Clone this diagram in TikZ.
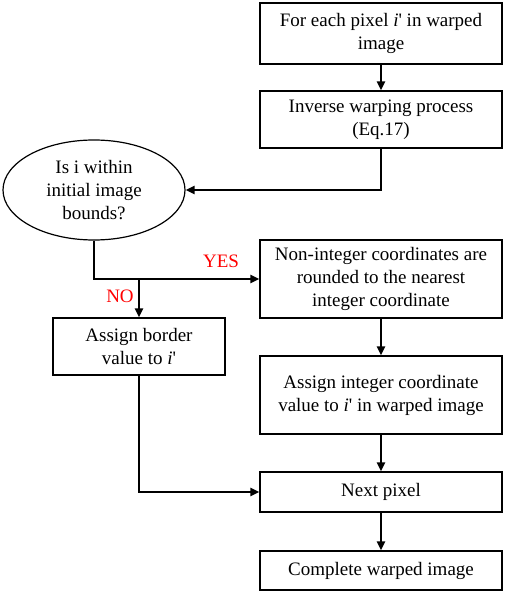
\documentclass[tikz,border=0pt]{standalone}
\usepackage{fontspec}
\setmainfont{Liberation Serif}
\newfontfamily\aposfont{Liberation Serif}[Ligatures=TeXOff]
\usetikzlibrary{arrows.meta,shapes.geometric}
\newcommand{\ip}{\textit{i}{\aposfont'}}
\begin{document}
\begin{tikzpicture}[x=1pt,y=-1pt,
  box/.style={draw,line width=1.2pt,inner sep=0pt,align=center,font=\fontsize{19}{23}\selectfont},
  conn/.style={line width=2.3pt,-{Triangle[length=9pt,width=8pt]}},
  lbl/.style={text=red,font=\fontsize{19}{22}\selectfont}]
\useasboundingbox (0,0) rectangle (505,593);
\node[box,minimum width=242pt,minimum height=61pt] (b1) at (381,33.5) {For each pixel \ip{} in warped\\image};
\node[box,minimum width=242pt,minimum height=57pt] (b2) at (381,119.5) {Inverse warping process\\(Eq.17)};
\node[box,ellipse,minimum width=182pt,minimum height=100pt] (e) at (94,190) {Is i within\\initial image\\bounds?};
\node[box,minimum width=242pt,minimum height=78pt] (b3) at (381,279) {Non-integer coordinates are\\rounded to the nearest\\integer coordinate};
\node[box,minimum width=172pt,minimum height=57pt] (b4) at (139,346.5) {Assign border\\value to \ip};
\node[box,minimum width=242pt,minimum height=78pt] (b5) at (381,395) {Assign integer coordinate\\value to \ip{} in warped image};
\node[box,minimum width=242pt,minimum height=40pt] (b6) at (381,492) {Next pixel};
\node[box,minimum width=242pt,minimum height=39pt] (b7) at (381,570.5) {Complete warped image};
\coordinate (j) at (139,278);
\draw[conn] (b1) -- (b2);
\draw[conn] (b2.south) |- (e.east);
\draw[conn] (e.south) |- (b3.west);
\draw[conn] (j) -- (b4.north);
\draw[conn] (b3) -- (b5);
\draw[conn] (b5) -- (b6);
\draw[conn] (b4.south) |- (b6.west);
\draw[conn] (b6) -- (b7);
\node[lbl] (yes) at (221,261) {YES};
\node[lbl] (no) at (120,296) {NO};
\end{tikzpicture}
\end{document}
